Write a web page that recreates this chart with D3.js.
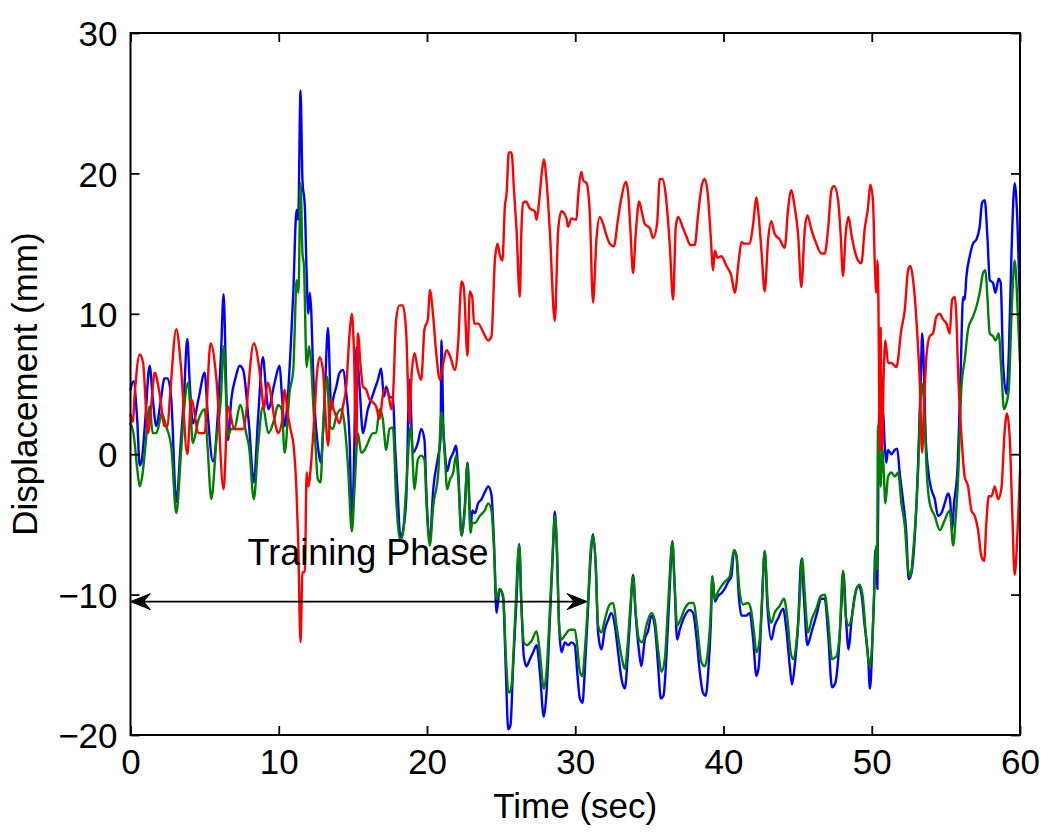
<!DOCTYPE html>
<html>
<head>
<meta charset="utf-8">
<script src="https://cdn.jsdelivr.net/npm/d3@7"></script>
<style>
  html, body { margin: 0; padding: 0; background: #ffffff; }
  svg { display: block; }
  text { font-family: "Liberation Sans", Arial, Helvetica, sans-serif; fill: #000; }
</style>
</head>
<body>
<svg id="chart" width="1050" height="834"></svg>
<script>
// ---- data: [time (sec), displacement (mm)] ----
const blueSeries = [[0,4.6],[0.2,5.2],[0.45,2.5],[0.62,-0.8],[0.75,-0.5],[1.0,2.5],[1.29,6.3],[1.5,4.0],[1.74,2.0],[2.0,3.5],[2.3,5.4],[2.5,5.4],[2.75,3.9],[3.09,-3.4],[3.4,1.0],[3.6,4.0],[3.83,8.2],[4.0,5.0],[4.2,2.2],[4.6,4.0],[5.0,5.8],[5.2,3.0],[5.56,-0.5],[5.9,3.0],[6.1,7.0],[6.28,11.4],[6.45,5.0],[6.57,1.0],[6.8,3.9],[7.1,5.5],[7.36,6.3],[7.6,6.0],[8.0,2.0],[8.32,-2.0],[8.6,2.5],[8.93,6.9],[9.15,4.5],[9.3,3.2],[9.7,5.0],[10.06,6.3],[10.2,4.4],[10.4,2.0],[10.6,3.9],[10.8,7.5],[10.98,11.5],[11.2,17.4],[11.31,16.7],[11.47,25.9],[11.6,19.5],[11.76,17.6],[11.88,12.9],[11.99,10.0],[12.1,11.5],[12.2,10.0],[12.3,6.5],[12.44,3.0],[12.64,0.6],[12.82,-0.6],[13.09,3.9],[13.32,9.0],[13.54,3.2],[13.7,4.1],[13.88,4.8],[14.1,5.8],[14.33,6.0],[14.55,4.4],[14.78,1.0],[14.93,-5.0],[15.07,-0.85],[15.23,7.6],[15.45,4.8],[15.68,1.5],[16.01,3.2],[16.24,3.9],[16.46,4.6],[16.69,5.3],[16.91,6.1],[17.09,4.1],[17.25,4.8],[17.47,4.1],[17.7,4.0],[17.85,0.5],[18.04,-3.2],[18.2,-5.9],[18.37,-5.5],[18.6,-3.2],[18.82,5.3],[19.05,0.1],[19.38,0.8],[19.61,1.8],[19.83,1.0],[19.97,-3.0],[20.19,-6.1],[20.42,-2.5],[20.76,-0.1],[20.91,1.0],[20.98,8.1],[21.1,2.0],[21.2,0.3],[21.36,-1.2],[21.55,-0.4],[21.77,0.1],[21.95,0.6],[22.1,-1.1],[22.33,-5.8],[22.55,-3.7],[22.73,-0.6],[22.83,-2.5],[22.94,-5.4],[23.05,-4.0],[23.23,-4.2],[23.45,-3.5],[23.68,-3.2],[23.9,-2.7],[24.13,-2.3],[24.35,-2.9],[24.51,-6.1],[24.69,-11.3],[24.91,-9.6],[25.14,-10.3],[25.32,-15.5],[25.48,-19.6],[25.63,-19.3],[25.81,-15.1],[26.04,-10.3],[26.22,-6.4],[26.37,-10.8],[26.53,-14.4],[26.71,-15.1],[26.94,-14.6],[27.16,-14.1],[27.39,-13.6],[27.61,-15.5],[27.88,-18.7],[28.06,-17.0],[28.28,-12.0],[28.51,-6.5],[28.62,-4.1],[28.75,-6.5],[28.91,-12.2],[29.07,-14.1],[29.3,-13.4],[29.52,-13.6],[29.74,-13.4],[29.97,-13.6],[30.13,-15.5],[30.31,-17.4],[30.49,-17.7],[30.64,-15.5],[30.87,-10.8],[31.03,-7.5],[31.2,-5.7],[31.38,-7.9],[31.54,-12.7],[31.77,-13.9],[31.99,-12.5],[32.22,-11.8],[32.44,-11.3],[32.67,-12.2],[32.89,-14.1],[33.12,-16.0],[33.34,-16.7],[33.56,-14.1],[33.72,-11.3],[33.9,-8.6],[34.08,-11.5],[34.31,-14.1],[34.46,-15.1],[34.69,-13.2],[34.91,-12.6],[35.14,-11.5],[35.36,-12.2],[35.59,-15.1],[35.77,-17.4],[35.95,-17.2],[36.15,-14.4],[36.37,-9.6],[36.55,-6.2],[36.71,-9.6],[36.87,-13.2],[37.05,-12.5],[37.27,-11.8],[37.5,-11.3],[37.72,-11.1],[37.95,-11.3],[38.17,-13.0],[38.4,-15.5],[38.62,-17.0],[38.8,-17.2],[38.97,-15.5],[39.14,-12.2],[39.25,-8.7],[39.42,-10.5],[39.63,-10.1],[39.86,-9.9],[40.08,-9.6],[40.31,-9.1],[40.53,-8.7],[40.71,-6.9],[40.87,-7.2],[41.03,-10.1],[41.21,-11.5],[41.54,-11.5],[41.77,-11.3],[42.0,-13.2],[42.22,-15.8],[42.38,-15.1],[42.56,-11.5],[42.78,-6.9],[42.96,-10.8],[43.23,-13.2],[43.45,-12.2],[43.68,-11.7],[44.02,-11.0],[44.24,-12.5],[44.47,-15.1],[44.62,-16.4],[44.8,-15.1],[45.03,-12.2],[45.25,-7.5],[45.43,-10.3],[45.66,-13.6],[45.93,-12.7],[46.26,-11.5],[46.6,-10.3],[46.83,-10.3],[47.05,-12.7],[47.32,-16.6],[47.54,-16.3],[47.77,-14.1],[47.95,-10.8],[48.08,-8.4],[48.29,-12.2],[48.44,-13.9],[48.62,-12.0],[48.85,-10.1],[49.12,-9.4],[49.3,-9.9],[49.52,-12.2],[49.75,-14.4],[49.88,-16.7],[50.02,-14.1],[50.15,-10.3],[50.24,-6.8],[50.32,-8.0],[50.38,-9.6],[50.47,1.5],[50.54,3.9],[50.65,3.2],[50.77,2.9],[50.87,0.8],[50.98,-0.6],[51.1,0.3],[51.33,0.0],[51.55,0.3],[51.72,0.4],[51.88,-1.3],[52.1,-3.2],[52.33,-5.6],[52.49,-8.9],[52.67,-8.5],[52.89,-6.1],[53.12,-0.85],[53.31,5.5],[53.4,8.6],[53.53,5.5],[53.62,1.7],[53.8,-1.1],[54.02,-2.5],[54.25,-3.2],[54.47,-4.4],[54.7,-4.2],[54.92,-3.5],[55.15,-2.8],[55.28,-3.2],[55.42,-5.4],[55.55,-3.5],[55.78,-1.1],[56.0,6.0],[56.16,11.2],[56.27,11.0],[56.38,12.6],[56.61,14.1],[56.83,15.0],[57.06,15.3],[57.28,16.2],[57.44,17.9],[57.62,18.1],[57.8,15.5],[57.96,12.4],[58.18,12.2],[58.34,11.5],[58.56,12.5],[58.7,12.2],[58.86,6.5],[59.08,4.3],[59.24,7.0],[59.42,14.1],[59.64,19.3],[59.82,16.7],[60.0,10.5]];

const greenSeries = [[0,2.2],[0.2,1.5],[0.45,-1.0],[0.62,-2.3],[0.8,-1.5],[1.0,0.5],[1.29,3.4],[1.5,1.5],[1.74,1.5],[2.0,2.5],[2.1,2.9],[2.4,2.0],[2.75,0.5],[3.09,-4.2],[3.4,0.0],[3.6,3.0],[3.88,5.1],[4.05,3.0],[4.2,0.8],[4.6,2.5],[5.0,3.2],[5.2,0.5],[5.45,-3.2],[5.8,1.0],[6.1,4.0],[6.28,7.7],[6.45,4.0],[6.57,1.3],[6.8,1.8],[7.0,1.8],[7.4,3.5],[7.8,1.5],[8.0,0.5],[8.32,-3.2],[8.6,0.5],[8.93,3.4],[9.3,1.5],[9.7,2.5],[9.95,3.5],[10.2,3.2],[10.4,0.1],[10.73,4.4],[10.98,6.0],[11.07,8.6],[11.2,12.4],[11.33,11.5],[11.47,19.3],[11.6,14.3],[11.7,13.4],[11.88,6.2],[12.04,7.7],[12.2,6.2],[12.3,4.1],[12.46,1.0],[12.64,-1.8],[12.82,-2.0],[12.98,1.5],[13.27,5.5],[13.43,2.0],[13.65,1.8],[13.88,2.7],[14.22,3.2],[14.45,2.0],[14.67,-0.85],[14.93,-5.5],[15.12,-2.3],[15.34,1.5],[15.56,0.1],[15.79,0.3],[16.01,0.8],[16.35,1.5],[16.57,1.5],[16.8,3.2],[17.02,2.5],[17.25,0.3],[17.47,1.8],[17.7,1.9],[17.92,-3.2],[18.2,-6.1],[18.37,-5.7],[18.6,-2.3],[18.9,2.0],[19.16,-2.5],[19.38,-0.4],[19.61,-0.1],[19.83,-0.4],[19.97,-3.7],[20.19,-6.5],[20.42,-3.7],[20.76,-1.3],[20.98,3.0],[21.2,-0.1],[21.36,-2.5],[21.55,-1.8],[21.77,-1.3],[21.95,-0.1],[22.1,-1.6],[22.33,-5.8],[22.55,-4.0],[22.73,-0.7],[22.83,-3.0],[22.94,-5.6],[23.05,-4.9],[23.23,-4.9],[23.56,-4.4],[23.9,-4.0],[24.13,-3.5],[24.35,-4.0],[24.51,-6.5],[24.69,-10.3],[24.91,-9.6],[25.14,-10.1],[25.32,-14.4],[25.54,-17.0],[25.7,-16.5],[25.92,-12.2],[26.22,-6.5],[26.37,-10.8],[26.53,-13.4],[26.71,-13.6],[27.05,-13.3],[27.39,-12.6],[27.61,-14.1],[27.88,-16.7],[28.06,-15.5],[28.28,-11.3],[28.51,-6.3],[28.62,-4.4],[28.77,-6.8],[28.91,-12.2],[29.07,-13.2],[29.3,-12.9],[29.63,-12.5],[29.97,-12.5],[30.13,-13.6],[30.31,-15.5],[30.49,-15.8],[30.64,-14.1],[30.87,-10.3],[31.03,-7.0],[31.2,-5.8],[31.38,-7.9],[31.54,-12.2],[31.77,-12.7],[31.99,-11.8],[32.33,-10.7],[32.56,-10.6],[32.78,-12.2],[33.12,-14.4],[33.34,-15.3],[33.56,-13.2],[33.72,-10.8],[33.9,-8.7],[34.08,-11.3],[34.31,-13.2],[34.53,-13.4],[34.8,-12.2],[35.14,-11.3],[35.36,-11.8],[35.59,-13.9],[35.81,-15.5],[36.04,-14.6],[36.26,-10.8],[36.55,-6.3],[36.71,-9.4],[36.87,-12.2],[37.05,-11.9],[37.39,-11.0],[37.72,-10.6],[37.99,-10.6],[38.22,-12.2],[38.51,-14.8],[38.73,-15.1],[38.96,-13.9],[39.14,-11.3],[39.25,-8.7],[39.42,-10.3],[39.63,-9.8],[39.86,-9.4],[40.08,-9.1],[40.42,-8.7],[40.71,-6.8],[40.87,-7.2],[41.1,-9.9],[41.32,-10.7],[41.66,-10.6],[41.84,-11.0],[42.06,-12.7],[42.22,-14.1],[42.44,-13.2],[42.6,-10.3],[42.78,-6.9],[43.0,-10.8],[43.23,-12.0],[43.45,-11.3],[43.79,-10.8],[44.08,-10.3],[44.31,-11.7],[44.53,-14.1],[44.69,-14.6],[44.92,-13.4],[45.14,-10.3],[45.3,-7.4],[45.48,-9.9],[45.7,-12.7],[45.97,-11.7],[46.26,-11.0],[46.56,-10.1],[46.83,-10.0],[47.05,-11.7],[47.32,-14.6],[47.61,-14.4],[47.84,-12.7],[48.06,-8.3],[48.24,-11.5],[48.44,-12.2],[48.67,-11.5],[48.96,-9.6],[49.19,-9.3],[49.41,-10.3],[49.63,-13.2],[49.86,-15.1],[50.02,-13.6],[50.15,-10.3],[50.31,-6.5],[50.36,-8.2],[50.42,2.0],[50.47,1.0],[50.6,-2.3],[50.7,0.6],[50.8,-1.0],[50.92,-3.5],[51.1,-1.6],[51.33,-1.3],[51.55,-1.6],[51.78,-1.3],[52.0,-3.5],[52.23,-5.1],[52.45,-8.2],[52.61,-8.7],[52.79,-7.0],[53.13,-1.1],[53.35,5.1],[53.53,3.6],[53.7,-1.1],[53.91,-3.5],[54.25,-4.4],[54.59,-5.4],[54.92,-4.7],[55.26,-4.0],[55.49,-6.5],[55.65,-4.7],[55.82,-1.8],[56.05,4.8],[56.27,6.7],[56.5,8.9],[56.83,9.8],[57.06,10.5],[57.28,11.5],[57.51,12.9],[57.67,13.1],[57.8,11.2],[57.96,8.6],[58.18,8.4],[58.35,8.1],[58.56,8.6],[58.74,6.0],[58.92,3.2],[59.08,3.6],[59.24,4.6],[59.46,10.8],[59.64,13.8],[59.87,9.6],[60.0,6.5]];

const redSeries = [[0,2.8],[0.15,2.3],[0.3,4.5],[0.62,7.1],[0.85,6.5],[1.18,1.5],[1.4,3.5],[1.63,5.8],[1.95,4.4],[2.3,2.0],[2.5,2.0],[2.65,3.9],[3.09,8.9],[3.4,6.3],[3.83,0.0],[4.1,3.9],[4.6,1.5],[5.0,1.5],[5.4,7.9],[5.8,5.3],[6.28,-2.5],[6.57,3.4],[7.0,1.8],[7.6,1.8],[8.32,7.9],[8.8,5.1],[9.0,3.2],[9.25,5.1],[9.8,2.0],[9.95,1.5],[10.2,2.2],[10.4,4.6],[10.6,2.9],[10.85,1.5],[10.98,0.8],[11.2,-2.75],[11.31,-6.1],[11.47,-13.4],[11.6,-8.4],[11.76,-8.4],[11.88,-1.3],[11.99,-2.3],[12.2,-0.4],[12.44,3.4],[12.53,5.1],[12.76,6.9],[12.98,6.0],[13.2,2.0],[13.32,0.6],[13.54,3.9],[13.7,3.2],[13.88,2.7],[14.1,2.2],[14.33,3.4],[14.55,4.8],[14.78,8.6],[14.93,10.0],[15.07,7.4],[15.23,0.6],[15.34,8.6],[15.52,6.3],[15.68,4.8],[15.9,4.6],[16.12,3.9],[16.35,3.7],[16.57,3.4],[16.8,2.5],[17.09,4.6],[17.36,4.4],[17.6,3.2],[17.7,4.0],[17.92,9.6],[18.15,10.6],[18.37,10.6],[18.6,8.6],[18.82,2.2],[18.93,5.1],[19.16,7.2],[19.38,6.0],[19.61,5.3],[19.83,8.9],[20.06,9.6],[20.19,11.7],[20.42,9.8],[20.64,7.0],[20.87,5.3],[21.1,6.5],[21.32,7.4],[21.55,7.0],[21.88,6.0],[22.1,7.9],[22.33,12.3],[22.48,11.9],[22.73,7.0],[22.89,11.6],[23.05,11.2],[23.18,9.3],[23.45,9.3],[23.79,8.7],[24.13,8.1],[24.35,8.4],[24.58,13.8],[24.76,15.0],[24.91,14.2],[25.09,13.8],[25.25,17.6],[25.37,18.6],[25.52,21.5],[25.7,21.5],[25.88,18.6],[26.04,16.0],[26.26,11.2],[26.37,16.0],[26.49,17.9],[26.67,18.0],[26.94,17.5],[27.27,17.3],[27.39,16.7],[27.57,18.1],[27.72,19.8],[27.88,21.0],[28.06,19.5],[28.28,16.0],[28.62,9.5],[28.85,16.0],[29.07,17.3],[29.41,16.8],[29.52,16.2],[29.74,16.8],[30.08,16.7],[30.19,18.3],[30.42,20.1],[30.53,19.5],[30.76,19.3],[30.98,17.2],[31.2,10.8],[31.43,15.3],[31.65,16.9],[31.88,16.4],[32.1,15.6],[32.33,15.0],[32.6,14.8],[32.89,16.8],[33.12,18.3],[33.41,19.4],[33.56,18.7],[33.72,16.0],[33.9,12.9],[34.08,15.7],[34.31,18.0],[34.46,17.4],[34.69,16.4],[35.03,16.1],[35.25,15.4],[35.52,16.4],[35.7,19.6],[35.88,19.6],[36.1,18.5],[36.37,15.0],[36.6,11.0],[36.78,16.2],[36.94,16.9],[37.27,16.1],[37.5,15.5],[37.77,14.9],[38.06,14.9],[38.28,17.0],[38.51,19.0],[38.73,19.6],[38.96,18.3],[39.14,15.5],[39.3,13.1],[39.41,14.5],[39.59,14.0],[39.86,14.1],[40.2,13.4],[40.53,12.7],[40.76,11.5],[41.03,13.8],[41.21,15.1],[41.43,15.0],[41.77,15.0],[42.0,16.4],[42.22,18.3],[42.38,16.9],[42.56,14.5],[42.78,11.6],[43.01,15.3],[43.23,16.6],[43.45,15.7],[43.79,15.3],[44.13,14.7],[44.35,17.4],[44.58,18.8],[44.8,17.6],[45.03,15.7],[45.25,11.9],[45.48,16.0],[45.66,17.0],[45.93,16.0],[46.26,15.0],[46.6,14.3],[46.83,14.3],[47.05,16.0],[47.28,18.8],[47.46,19.1],[47.73,18.1],[47.9,15.7],[48.06,12.7],[48.24,15.7],[48.44,16.9],[48.62,15.7],[48.85,14.5],[49.07,13.8],[49.3,13.6],[49.52,16.0],[49.75,17.6],[49.9,19.2],[50.08,18.1],[50.2,13.8],[50.31,11.5],[50.38,13.8],[50.45,11.0],[50.5,4.0],[50.55,0.2],[50.6,9.0],[50.65,3.0],[50.7,0.3],[50.8,5.5],[50.92,8.1],[51.1,6.5],[51.33,6.5],[51.66,6.2],[52.0,8.9],[52.23,10.3],[52.45,13.1],[52.61,13.4],[52.79,12.4],[53.01,9.6],[53.24,5.1],[53.4,0.1],[53.53,3.6],[53.69,7.0],[53.91,8.4],[54.13,8.6],[54.36,9.8],[54.59,10.0],[54.81,9.6],[55.04,9.3],[55.26,8.6],[55.42,11.0],[55.6,11.2],[55.7,10.0],[55.82,6.0],[56.05,1.3],[56.27,-1.6],[56.5,-2.3],[56.72,-4.0],[56.95,-4.4],[57.17,-5.4],[57.4,-7.3],[57.58,-7.6],[57.73,-4.9],[57.89,-3.0],[58.07,-3.0],[58.3,-2.3],[58.52,-3.2],[58.74,-2.5],[58.97,1.7],[59.12,2.9],[59.3,1.3],[59.46,-3.5],[59.64,-8.6],[59.87,-4.6],[60.0,-1.2]];

const xTicks = [0, 10, 20, 30, 40, 50, 60];
const yTicks = [-20, -10, 0, 10, 20, 30];
const xLabel = "Time (sec)";
const yLabel = "Displacement (mm)";
const annotationText = "Training Phase";
const annotationTextPos = [7.9, -7.9];     // [time, displacement] of text start / baseline
const arrowFrom = [0, -10.5];
const arrowTo = [30.8, -10.5];

const seriesList = [
  { name: "blue", data: blueSeries, color: "#0000ff" },
  { name: "green", data: greenSeries, color: "#008000" },
  { name: "red", data: redSeries, color: "#ff0000" }
];

// ---- layout ----
const svg = d3.select("#chart");
const W = 1050, H = 834;
const plot = { left: 130.5, right: 1020, top: 33, bottom: 735 };

svg.append("rect").attr("width", W).attr("height", H).attr("fill", "#ffffff");

const x = d3.scaleLinear().domain([0, 60]).range([plot.left, plot.right]);
const y = d3.scaleLinear().domain([-20, 30]).range([plot.bottom, plot.top]);

const FS = 35;
const tickLen = 9;

// data lines
const line = d3.line().curve(d3.curveMonotoneX).x(d => x(d[0])).y(d => y(d[1]));
const lines = svg.append("g");
seriesList.forEach(s => {
  lines.append("path")
    .datum(s.data)
    .attr("fill", "none")
    .attr("stroke", s.color)
    .attr("stroke-width", 2.4)
    .attr("stroke-linejoin", "round")
    .attr("stroke-linecap", "round")
    .attr("d", line);
});

// axes (MATLAB style box with inward ticks on all sides)
const bottomAxis = d3.axisBottom(x).tickValues(xTicks).tickSize(-tickLen).tickPadding(14).tickFormat(d3.format("d"));
const topAxis = d3.axisTop(x).tickValues(xTicks).tickSize(-tickLen).tickFormat("");
const leftAxis = d3.axisLeft(y).tickValues(yTicks).tickSize(-tickLen).tickPadding(13)
  .tickFormat(d => d < 0 ? "\u2212" + Math.abs(d) : String(d));
const rightAxis = d3.axisRight(y).tickValues(yTicks).tickSize(-tickLen).tickFormat("");

function styleAxis(g) {
  g.select(".domain").remove();
  g.selectAll(".tick line").attr("stroke", "#000").attr("stroke-width", 1.8);
  g.selectAll(".tick text").attr("font-size", FS).attr("fill", "#000")
    .style("font-family", '"Liberation Sans", Arial, Helvetica, sans-serif');
}

svg.append("g").attr("transform", `translate(0,${plot.bottom})`).call(bottomAxis).call(styleAxis)
  .selectAll(".tick text").attr("dy", "0.71em");
svg.append("g").attr("transform", `translate(0,${plot.top})`).call(topAxis).call(styleAxis);
svg.append("g").attr("transform", `translate(${plot.left},0)`).call(leftAxis).call(styleAxis)
  .selectAll(".tick text").attr("dy", "0.36em");
svg.append("g").attr("transform", `translate(${plot.right},0)`).call(rightAxis).call(styleAxis);

// box
svg.append("rect")
  .attr("x", plot.left).attr("y", plot.top)
  .attr("width", plot.right - plot.left).attr("height", plot.bottom - plot.top)
  .attr("fill", "none").attr("stroke", "#000").attr("stroke-width", 2);

// axis labels
svg.append("text")
  .attr("x", (plot.left + plot.right) / 2).attr("y", 818)
  .attr("text-anchor", "middle").attr("font-size", FS)
  .text(xLabel);
svg.append("text")
  .attr("transform", `translate(37,${(plot.top + plot.bottom) / 2}) rotate(-90)`)
  .attr("text-anchor", "middle").attr("font-size", FS)
  .text(yLabel);

// annotation text
svg.append("text")
  .attr("x", x(annotationTextPos[0])).attr("y", y(annotationTextPos[1]))
  .attr("font-size", 36)
  .text(annotationText);

// double-headed arrow
const ax1 = x(arrowFrom[0]), ay1 = y(arrowFrom[1]);
const ax2 = x(arrowTo[0]), ay2 = y(arrowTo[1]);
svg.append("line")
  .attr("x1", ax1 + 2).attr("y1", ay1).attr("x2", ax2 - 2).attr("y2", ay2)
  .attr("stroke", "#000").attr("stroke-width", 1.6);
function arrowHead(tx, ty, dir) {
  const L = 20, Wd = 8, notch = 13;
  const p = [
    [tx, ty],
    [tx + dir * L, ty - Wd],
    [tx + dir * notch, ty],
    [tx + dir * L, ty + Wd]
  ];
  svg.append("path")
    .attr("d", "M" + p.map(q => q.join(",")).join("L") + "Z")
    .attr("fill", "#000").attr("stroke", "#000").attr("stroke-width", 1)
    .attr("stroke-linejoin", "miter");
}
arrowHead(ax1, ay1, 1);
arrowHead(ax2, ay2, -1);
</script>
</body>
</html>
